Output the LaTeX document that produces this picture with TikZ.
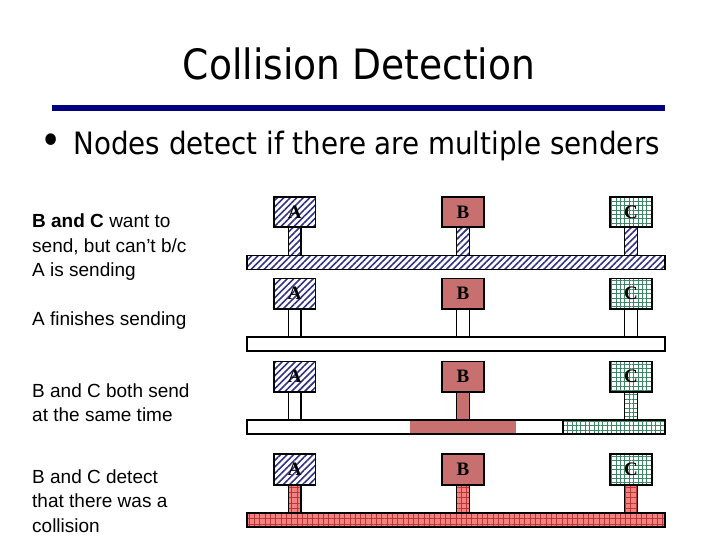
\documentclass[tikz,border=0pt]{standalone}
\usepackage{fontspec}
\setmainfont{Liberation Sans}
\newfontfamily\titlefont{DejaVu Sans Condensed}
\newfontfamily\boxfont{Liberation Serif}
\usetikzlibrary{calc,patterns.meta}

\definecolor{rulenavy}{RGB}{0,0,128}
\definecolor{hatchblue}{RGB}{50,50,130}
\definecolor{checkred}{RGB}{200,112,112}
\definecolor{gridgreen}{RGB}{60,135,100}
\definecolor{jamred}{RGB}{242,130,128}
\definecolor{jamline}{RGB}{185,55,55}

\tikzset{
  station/.style={draw, line width=1.6pt, outer sep=0pt, inner sep=0pt,
    minimum width=41.5pt, minimum height=30.5pt,
    font=\boxfont\bfseries\fontsize{19}{19}\selectfont},
  bus/.style={draw, line width=1.6pt, outer sep=0pt, inner sep=0pt,
    minimum width=418.4pt, minimum height=14pt},
  wire/.style={draw, line width=1.6pt},
  hatchA/.style={pattern={Lines[angle=45,distance=4.6pt,line width=1.6pt]}, pattern color=hatchblue},
  checkB/.style={fill=checkred},
  gridC/.style={pattern={Hatch[angle=0,distance=4.4pt,line width=0.7pt]}, pattern color=gridgreen},
  jam/.style={preaction={fill=jamred}, pattern={Hatch[angle=0,distance=5.3pt,line width=0.6pt]}, pattern color=jamline},
  stagetext/.style={anchor=base west, align=left, inner sep=0pt,
    font=\fontsize{19}{24.5}\selectfont},
}
\newcommand{\stem}[3]{% style, station, bus
  \draw[wire,#1] ($(#2.south)+(-6.4,0)$) rectangle ($(#3.north -| #2.south)+(6.4,0)$);}

\begin{document}
\begin{tikzpicture}[x=1pt,y=-1pt]
  \useasboundingbox (0,0) rectangle (720,540);
  % heading
  \node[anchor=base, font=\titlefont\fontsize{41.8}{48}\selectfont] (title) at (359,79.3) {Collision Detection};
  \draw[rulenavy, line width=5.5pt] (52,107.8) -- (665,107.8);
  \node[inner sep=0pt, font=\titlefont\fontsize{40}{40}\selectfont] (dot) at (50.7,144) {•};
  \node[anchor=base west, inner sep=0pt, font=\titlefont\fontsize{30.8}{36}\selectfont] (point) at (73.3,155) {Nodes detect if there are multiple senders};

  % row 1: A is sending (base = last line)
  \node[stagetext] (t1) at (32,276.5) {\textbf{B and C} want to\\send, but can’t b/c\\A is sending};
  \node[station, hatchA] (a1) at (294.8,212) {A};
  \node[station, checkB] (b1) at (463,212) {B};
  \node[station, gridC] (c1) at (631,212) {C};
  \node[bus, hatchA] (bus1) at (456,262.5) {};
  \stem{hatchA}{a1}{bus1} \stem{hatchA}{b1}{bus1} \stem{hatchA}{c1}{bus1}

  % row 2: A done
  \node[stagetext] (t2) at (32,325) {A finishes sending};
  \node[station, hatchA] (a2) at (294.8,293.7) {A};
  \node[station, checkB] (b2) at (463,293.7) {B};
  \node[station, gridC] (c2) at (631,293.7) {C};
  \node[bus] (bus2) at (456,343.9) {};
  \stem{}{a2}{bus2} \stem{}{b2}{bus2} \stem{}{c2}{bus2}

  % row 3: B and C start together
  \node[stagetext] (t3) at (32,421.5) {B and C both send\\at the same time};
  \node[station, hatchA] (a3) at (294.8,376.7) {A};
  \node[station, checkB] (b3) at (463,376.7) {B};
  \node[station, gridC] (c3) at (631,376.7) {C};
  \node[bus] (bus3) at (456,427.2) {};
  \path[checkB] ($(bus3.north west)+(163,0)$) rectangle ($(bus3.south west)+(269,0)$);
  \path[gridC] ($(bus3.north west)+(316,0)$) rectangle (bus3.south east);
  \draw[wire] (bus3.north west) rectangle (bus3.south east);
  \draw[wire] ($(bus3.north west)+(316,0)$) -- ($(bus3.south west)+(316,0)$);
  \stem{}{a3}{bus3} \stem{checkB}{b3}{bus3} \stem{gridC}{c3}{bus3}

  % row 4: collision
  \node[stagetext] (t4) at (32,532) {B and C detect\\that there was a\\collision};
  \node[station, hatchA] (a4) at (294.8,469.5) {A};
  \node[station, checkB] (b4) at (463,469.5) {B};
  \node[station, gridC] (c4) at (631,469.5) {C};
  \node[bus, jam] (bus4) at (456,520.2) {};
  \stem{jam}{a4}{bus4} \stem{jam}{b4}{bus4} \stem{jam}{c4}{bus4}
\end{tikzpicture}
\end{document}
